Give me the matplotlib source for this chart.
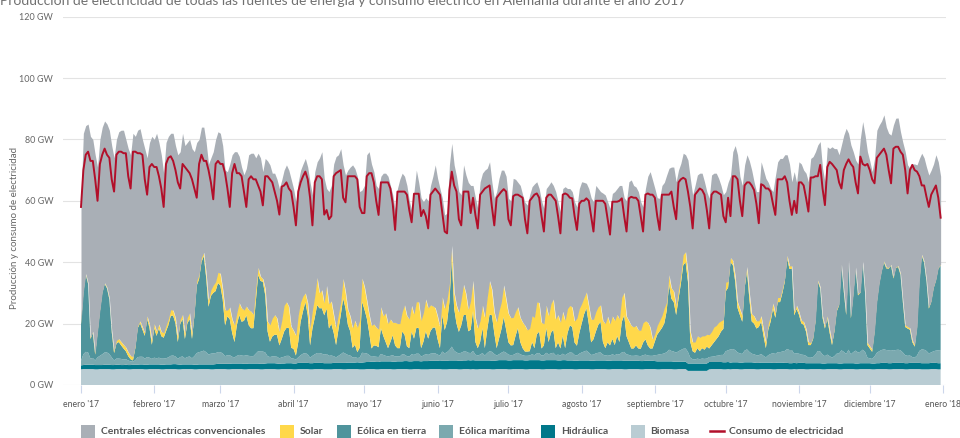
import numpy as np
import matplotlib
matplotlib.use("Agg")
import matplotlib.pyplot as plt
from matplotlib.patches import Rectangle
from matplotlib.lines import Line2D

plt.rcParams['font.family'] = ['Lato', 'DejaVu Sans']

# Daily averages for 2017 in GW, one row per month
consumo = [
    58, 70, 75, 76, 73, 73, 67, 60, 72, 75, 77, 75, 74, 67, 63, 75, 76, 76, 75.5, 75.5, 68, 64, 76, 76, 75.5, 75.5, 75, 67, 62, 71, 72,
    71, 71, 68, 64, 58, 72, 74, 74.5, 73, 70, 66, 64, 72, 71, 70, 69, 67, 64, 61, 72, 75, 73, 73, 70, 66, 60.5, 72, 73,
    72, 72, 69, 64, 58, 69, 72, 69, 69, 68, 63, 58, 67, 68, 67, 67, 65, 63, 58.5, 68, 68, 67, 66, 63, 60, 55.5, 64.6, 65, 66, 64, 63,
    58, 52, 63, 66, 68, 69.5, 67, 61, 52, 66, 68, 68, 67, 55.5, 57, 54, 55, 68, 69, 69.5, 70, 61, 59.5, 68, 68, 68, 68, 67, 58, 56,
    56, 68, 69, 69, 66, 60, 55.4, 66, 66, 66, 66, 64, 59, 50.5, 63, 63, 63, 63, 62, 57, 53, 62.3, 62.3, 62.3, 55, 57, 55, 51, 62, 63, 64,
    63, 62, 56, 50, 49.4, 63.5, 69.5, 65, 63, 54, 52, 63, 63, 63, 56, 61, 55.4, 51, 62, 63, 64, 64.5, 65, 58, 52, 61, 62, 63, 63.8, 63,
    54, 52, 61.5, 62, 62, 61.5, 61, 54, 49.4, 60, 61, 62, 62.4, 61, 55, 50, 61, 62, 62, 61, 60, 55, 49.4, 62, 62.4, 62, 61, 60.8, 55, 50.5, 59,
    60, 60, 60.8, 60, 55, 50, 60, 60, 60, 60, 59, 54, 49, 59.7, 59.7, 59.7, 60, 60.8, 55, 50, 60.8, 61.3, 61, 61, 60, 55, 50, 62, 62.4, 62, 62,
    61, 55, 50.5, 62, 62, 62, 62, 63, 58, 54, 66, 67, 67.5, 67, 63, 58, 51, 62, 63, 64, 63.5, 62, 57, 51, 62, 63, 63, 62.5, 62, 55,
    53, 61, 55, 68, 68, 67, 60, 55, 65, 66, 66, 65, 63.5, 59, 52.7, 65.4, 65, 64, 64, 63, 59, 55.4, 67, 67, 67, 68, 66, 60, 55.4, 60, 56,
    66, 66, 65, 61, 56.5, 67.6, 67.6, 68, 68, 71.7, 64, 58.6, 71, 72.7, 72, 71, 70, 66, 64, 70, 72, 73.5, 72, 71, 66, 62.4, 74.4, 72, 71.5, 72,
    70, 67, 65.7, 74, 75, 76, 77, 75, 70, 65.7, 77, 77.6, 77.6, 76, 75, 70, 62.4, 70, 71.7, 70, 69.5, 68, 65, 65, 61.3, 58, 62, 63.5, 65, 61, 54.5,
]

produccion_total = [
    60, 82, 84.5, 85, 81, 80, 75, 71, 80, 84, 86, 85, 83, 78, 74, 80, 82.5, 83, 83, 80, 77, 75, 82, 81, 83, 83.5, 80, 77, 74, 79, 81,
    80, 82, 79, 75, 69, 79, 81, 82, 82, 78, 75, 76, 82, 78, 79, 80, 77, 76, 79, 80, 84, 84, 79, 72, 74, 76, 80, 82.5,
    82, 78, 70, 69.5, 72, 75, 76, 76, 74.5, 71, 68.5, 70.5, 75, 75.5, 75.5, 74, 75.5, 74, 69.5, 73.8, 73, 71.7, 69, 69, 67, 64, 66.8, 70, 71.7, 70, 67,
    64, 59.7, 66.2, 70, 72, 73.8, 71, 66, 62, 69.5, 72.7, 74, 76, 67.3, 64, 63, 65, 72, 74.4, 75, 77, 71.7, 68.4, 70, 71, 71.7, 70.5, 68, 63, 63.5,
    65, 75, 76, 72, 69.5, 65, 64, 68, 69, 69, 68, 65, 62, 57, 64, 67, 69, 68, 65, 60, 57, 63, 70, 66, 61, 59.7, 61, 60, 65, 68, 71.7,
    67.3, 64, 60.8, 55.4, 56, 71.7, 78.7, 71.7, 68, 63, 62, 71.7, 68.4, 66, 65, 65, 61, 57.5, 66.2, 69, 70, 70.6, 72.7, 66, 60.8, 63, 67.3, 70, 70, 68,
    60.8, 60, 67.3, 67, 66, 65, 62, 59.5, 58.6, 62, 64.6, 65.5, 66.2, 64, 60, 57.5, 64, 65, 66.2, 65, 63, 59.7, 56.5, 64, 64.6, 64, 64, 63, 59.7, 58, 64,
    66.2, 66, 65.7, 64, 61, 59.7, 65, 64, 63, 62.5, 61.9, 59.7, 57.5, 62.4, 63, 64, 65, 65, 61, 60, 66.2, 66.8, 65, 64.5, 63, 59.7, 58, 64, 68, 69.5, 66.8,
    64, 61, 60.8, 65, 66, 68.4, 70.6, 71, 71, 66.2, 70, 72.2, 75.5, 75, 73.3, 67.3, 61.9, 65, 68.4, 69, 69, 66.2, 63, 60.8, 68.4, 69, 69, 67.3, 65, 62,
    63, 66, 68, 76, 78, 75, 68, 65, 71.7, 75, 73, 70, 66.2, 63, 63, 72.7, 70, 67.3, 66, 64, 63, 68, 72.7, 73.8, 73.8, 75, 75, 72, 66.2, 69.5, 66,
    72.7, 72, 70, 69, 66.2, 73.8, 74.4, 76, 78.2, 79.3, 70.6, 66.2, 77.6, 77, 77.6, 77, 77, 75, 78.2, 81.4, 83.6, 82, 78.2, 76, 73.3, 72, 80.3, 85.8, 81.4, 76,
    73, 69.5, 73.8, 83, 84.7, 86, 88, 84, 82, 81.4, 84.7, 86.9, 87, 82.5, 79, 76, 71.7, 70.6, 72, 72, 71.7, 73.8, 75.5, 74, 71, 68.4, 70, 72, 75, 72.7, 68,
]

solar = [
    0.6, 0.4, 0.3, 0.3, 0.5, 0.5, 0.6, 0.5, 0.5, 0.4, 0.3, 0.3, 0.4, 0.5, 0.8, 1.0, 1.1, 1.2, 1.3, 1.3, 1.3, 1.2, 1.2, 1.0, 0.8, 0.8, 0.8, 1.0, 1.0, 1.2, 1.5,
    1.5, 1.5, 1.4, 1.5, 1.6, 1.8, 2.0, 2.0, 1.8, 1.8, 1.8, 1.5, 1.5, 1.8, 2.0, 2.0, 2.0, 1.8, 1.5, 1.5, 1.5, 1.2, 1.5, 2.0, 2.0, 2.5, 3.0, 3.5,
    4.0, 3.5, 5.0, 2.0, 4.0, 4.5, 5.5, 4.0, 4.0, 4.5, 3.5, 3.0, 5.0, 5.5, 4.5, 4.5, 2.5, 1.5, 1.0, 2.2, 3.2, 5.5, 6.0, 6.5, 5.5, 4.5, 6.0, 8.5, 8.5, 7.0, 7.0,
    6.0, 6.5, 8.8, 6.4, 5.0, 3.0, 4.0, 5.5, 6.0, 7.0, 9.0, 5.0, 6.0, 4.0, 7.5, 8.0, 7.5, 6.0, 5.5, 5.0, 4.2, 6.5, 5.4, 5.0, 5.0, 6.5, 8.0, 8.0, 9.0, 7.7,
    7.5, 6.0, 6.0, 7.5, 7.0, 6.0, 5.9, 7.0, 6.5, 9.5, 8.0, 7.5, 4.2, 7.5, 8.0, 8.0, 6.4, 9.7, 10.0, 9.5, 8.5, 8.0, 8.5, 8.5, 9.0, 9.5, 10.5, 10.0, 8.5, 7.0, 6.5,
    7.5, 7.0, 6.0, 7.0, 7.4, 6.0, 4.2, 5.3, 6.0, 6.4, 8.5, 10.0, 7.0, 7.0, 9.5, 10.0, 8.0, 6.5, 7.0, 7.5, 10.0, 10.5, 11.0, 8.5, 7.0, 8.5, 9.0, 9.0, 10.5, 10.0,
    9.5, 9.0, 9.0, 8.0, 7.0, 8.0, 8.5, 8.5, 7.0, 7.5, 8.5, 10.0, 10.5, 9.5, 8.5, 7.0, 7.5, 8.5, 9.5, 10.0, 9.5, 9.0, 8.5, 8.0, 9.0, 8.0, 6.5, 6.5, 7.0, 9.0, 8.0,
    6.5, 5.5, 5.3, 6.0, 7.5, 6.5, 6.5, 6.0, 5.5, 7.0, 8.0, 8.5, 7.0, 7.5, 8.0, 7.0, 7.5, 8.0, 7.5, 6.5, 7.0, 7.5, 7.0, 6.5, 6.0, 6.0, 6.5, 6.0, 7.5, 7.0, 3.0,
    2.5, 3.0, 3.5, 4.0, 5.0, 3.0, 3.2, 3.5, 3.5, 3.0, 3.0, 3.0, 3.5, 3.4, 3.0, 3.5, 3.0, 3.5, 4.0, 4.5, 4.0, 4.5, 4.0, 4.5, 4.5, 5.0, 4.5, 4.5, 3.5, 3.0,
    3.0, 2.0, 1.5, 1.5, 1.8, 2.0, 2.0, 2.0, 1.5, 1.5, 2.0, 2.5, 2.5, 2.5, 2.0, 2.0, 2.0, 2.0, 2.0, 2.0, 1.8, 1.5, 1.5, 1.5, 1.5, 1.2, 1.0, 1.0, 1.0, 1.2, 1.2,
    1.0, 1.0, 1.0, 1.0, 1.0, 0.8, 0.8, 0.8, 0.5, 0.5, 0.6, 0.8, 0.8, 1.0, 1.0, 1.0, 0.8, 0.6, 0.4, 0.5, 0.6, 0.4, 0.6, 0.6, 0.5, 0.5, 0.4, 0.4, 0.5, 0.8,
    0.8, 0.8, 0.6, 0.5, 0.4, 0.4, 0.4, 0.4, 0.4, 0.4, 0.4, 0.4, 0.4, 0.4, 0.5, 0.6, 0.6, 0.6, 0.6, 0.6, 0.6, 0.5, 0.4, 0.4, 0.4, 0.5, 0.5, 0.5, 0.4, 0.4, 0.4,
]

eolica_tierra = [
    11.9, 19.9, 25.2, 22.4, 6.4, 8.2, 1.9, 7.9, 14.4, 19.9, 22.4, 20.9, 17.9, 8.4, 2.4, 4.9, 5.4, 4.4, 3.6, 2.6, 1.4, 0.7, 0.4, 3.9, 9.4, 10.9, 8.9, 7.4, 12.4, 9.7, 4.6,
    9.6, 7.3, 9.6, 7.3, 6.8, 8.8, 10.5, 13.0, 13.0, 10.8, 5.5, 10.8, 12.2, 6.3, 10.9, 12.2, 6.3, 13.0, 22.0, 23.8, 29.1, 30.8, 24.3, 15.6, 18.8, 19.7, 20.2, 22.5,
    21.7, 17.6, 10.0, 12.7, 11.7, 7.8, 5.0, 10.0, 13.0, 11.0, 11.4, 13.0, 10.0, 9.1, 9.1, 16.8, 24.8, 23.0, 22.7, 18.7, 8.1, 5.0, 6.5, 7.1, 7.1, 4.2, 6.0, 8.2, 9.1, 9.1, 3.4,
    3.2, 1.3, 5.0, 10.9, 13.8, 16.6, 12.8, 4.0, 8.9, 12.0, 15.6, 14.6, 14.8, 12.8, 14.8, 8.9, 10.3, 7.6, 4.0, 8.5, 12.8, 17.6, 14.8, 9.8, 7.9, 3.1, 4.0, 1.9, 3.2, 16.6,
    14.3, 11.5, 7.4, 2.7, 3.6, 3.6, 3.2, 8.4, 6.2, 4.5, 2.7, 4.5, 6.5, 3.6, 2.7, 2.7, 7.4, 6.5, 3.2, 2.7, 7.4, 5.3, 8.4, 8.4, 2.7, 4.5, 7.4, 5.3, 7.4, 8.4, 8.4,
    5.0, 2.4, 11.8, 7.6, 9.8, 15.6, 28.8, 13.8, 9.4, 7.0, 8.9, 11.9, 11.9, 7.0, 7.6, 13.0, 4.1, 2.4, 4.1, 8.1, 2.4, 7.6, 12.0, 11.9, 6.8, 2.4, 5.1, 7.6, 11.2, 7.6,
    4.0, 3.2, 3.2, 5.8, 8.0, 4.0, 2.3, 1.4, 1.4, 1.4, 4.0, 2.3, 6.2, 7.0, 2.3, 3.2, 8.0, 4.0, 6.7, 7.5, 2.3, 4.0, 2.3, 5.8, 2.3, 6.7, 8.8, 8.4, 4.0, 3.2, 6.7,
    9.4, 12.1, 13.8, 9.4, 4.1, 5.0, 7.1, 9.0, 10.0, 4.1, 2.4, 4.1, 3.3, 5.0, 3.3, 5.9, 4.1, 10.0, 11.9, 5.9, 4.1, 2.4, 2.4, 3.3, 2.4, 2.4, 4.1, 5.0, 3.3, 2.4, 2.4,
    4.5, 6.6, 7.5, 8.5, 9.8, 13.4, 21.2, 17.0, 16.1, 12.3, 17.0, 21.6, 27.2, 28.1, 22.9, 5.1, 2.6, 2.2, 3.4, 2.6, 3.4, 3.0, 3.9, 2.8, 3.7, 4.6, 5.4, 6.3, 7.6, 8.5,
    19.5, 20.4, 28.4, 27.4, 22.4, 14.5, 12.5, 10.5, 20.4, 25.5, 17.3, 10.5, 10.0, 8.7, 9.2, 10.5, 6.5, 3.0, 8.3, 10.5, 14.5, 11.8, 16.3, 16.3, 19.1, 22.5, 29.5, 26.4, 26.4, 12.5, 14.5,
    12.7, 10.2, 9.8, 7.9, 4.1, 4.1, 5.9, 10.7, 22.6, 20.6, 12.0, 9.0, 11.8, 7.6, 4.1, 8.0, 13.8, 15.6, 27.6, 19.6, 12.7, 28.7, 11.7, 18.6, 26.7, 18.6, 19.2, 28.5, 19.2, 4.1,
    3.2, 2.3, 7.9, 16.4, 21.9, 25.6, 28.4, 26.6, 26.6, 27.5, 23.5, 26.6, 27.0, 24.7, 16.4, 9.2, 8.9, 8.4, 4.9, 3.6, 8.9, 22.6, 30.6, 28.4, 22.8, 14.6, 16.4, 20.5, 22.8, 26.6, 27.5,
]

eolica_maritima = [
    1.5, 3.5, 4.2, 4.0, 2.0, 2.2, 1.5, 2.5, 3.0, 3.5, 4.0, 4.0, 3.5, 2.5, 1.5, 2.0, 2.0, 2.0, 1.8, 1.8, 1.5, 1.2, 1.0, 1.5, 2.5, 2.5, 2.5, 2.0, 2.5, 2.2, 1.8,
    2.2, 2.0, 2.2, 2.0, 2.0, 2.0, 2.3, 2.8, 2.8, 2.5, 1.8, 2.5, 2.6, 2.0, 2.4, 2.6, 2.0, 2.8, 3.8, 4.0, 4.2, 4.5, 4.0, 3.2, 3.5, 3.6, 3.6, 3.8,
    3.8, 3.4, 2.5, 2.8, 2.8, 2.2, 2.0, 2.5, 2.8, 2.6, 2.6, 2.8, 2.5, 2.4, 2.4, 3.2, 4.0, 4.0, 4.0, 3.6, 2.3, 2.0, 2.2, 2.2, 2.2, 1.8, 2.0, 2.2, 2.4, 2.4, 1.6,
    1.6, 1.3, 1.8, 2.5, 3.0, 3.2, 2.8, 1.8, 2.4, 2.8, 3.2, 3.2, 3.0, 2.8, 3.0, 2.4, 2.5, 2.2, 1.8, 2.3, 2.8, 3.4, 3.0, 2.5, 2.3, 1.7, 1.8, 1.4, 1.6, 3.2,
    3.0, 2.8, 2.3, 1.6, 1.7, 1.7, 1.6, 2.4, 2.1, 1.8, 1.6, 1.8, 2.1, 1.7, 1.6, 1.6, 2.3, 2.1, 1.6, 1.6, 2.3, 2.0, 2.4, 2.4, 1.6, 1.8, 2.3, 2.0, 2.3, 2.4, 2.4,
    2.0, 1.6, 3.0, 2.4, 2.8, 3.4, 4.5, 3.2, 2.6, 2.4, 2.6, 2.9, 2.9, 2.4, 2.4, 3.0, 1.9, 1.6, 1.9, 2.4, 1.6, 2.4, 3.0, 2.9, 2.2, 1.6, 1.9, 2.4, 2.8, 2.4,
    1.9, 1.7, 1.7, 2.1, 2.4, 1.9, 1.6, 1.5, 1.5, 1.5, 1.9, 1.6, 2.2, 2.3, 1.6, 1.7, 2.4, 1.9, 2.2, 2.4, 1.6, 1.9, 1.6, 2.1, 1.6, 2.2, 2.6, 2.5, 1.9, 1.7, 2.2,
    2.6, 2.9, 3.2, 2.6, 1.9, 2.0, 2.3, 2.5, 2.6, 1.9, 1.6, 1.9, 1.7, 2.0, 1.7, 2.1, 1.9, 2.6, 2.9, 2.1, 1.9, 1.6, 1.6, 1.7, 1.6, 1.6, 1.9, 2.0, 1.7, 1.6, 1.6,
    1.9, 2.1, 2.3, 2.4, 2.6, 3.0, 3.8, 3.4, 3.3, 2.9, 3.4, 3.8, 4.2, 4.3, 3.8, 1.9, 1.4, 1.3, 1.6, 1.4, 1.6, 1.5, 1.6, 1.6, 1.7, 1.8, 2.0, 2.1, 2.3, 2.4,
    3.6, 3.8, 4.3, 4.3, 4.0, 3.2, 3.0, 2.8, 3.8, 4.2, 3.4, 2.8, 2.7, 2.5, 2.5, 2.8, 2.2, 1.7, 2.4, 2.8, 3.2, 2.9, 3.4, 3.4, 3.6, 3.9, 4.5, 4.3, 4.3, 3.0, 3.2,
    3.0, 2.7, 2.6, 2.4, 1.8, 1.8, 2.0, 2.8, 4.0, 3.8, 2.9, 2.4, 2.8, 2.3, 1.8, 2.3, 3.1, 3.3, 4.3, 3.7, 3.0, 4.4, 2.9, 3.6, 4.2, 3.6, 3.7, 4.4, 3.7, 1.8,
    1.6, 1.5, 2.3, 3.4, 3.9, 4.2, 4.4, 4.2, 4.2, 4.3, 4.0, 4.2, 4.3, 4.1, 3.4, 2.6, 2.4, 2.4, 1.9, 1.7, 2.4, 3.9, 4.5, 4.4, 4.0, 3.2, 3.4, 3.8, 4.0, 4.2, 4.3,
]

hidraulica = [
    1.3, 1.3, 1.4, 1.4, 1.4, 1.4, 1.4, 1.4, 1.3, 1.3, 1.4, 1.4, 1.4, 1.4, 1.4, 1.4, 1.4, 1.3, 1.3, 1.4, 1.4, 1.4, 1.4, 1.4, 1.4, 1.5, 1.5, 1.5, 1.5, 1.5, 1.5,
    1.5, 1.5, 1.5, 1.5, 1.5, 1.5, 1.5, 1.5, 1.6, 1.6, 1.6, 1.5, 1.5, 1.5, 1.5, 1.5, 1.5, 1.5, 1.5, 1.5, 1.5, 1.5, 1.5, 1.5, 1.6, 1.6, 1.6, 1.7,
    1.7, 1.7, 1.7, 1.8, 1.8, 1.8, 1.8, 1.8, 1.8, 1.8, 1.8, 1.8, 1.8, 1.8, 1.8, 1.8, 1.8, 1.8, 1.8, 1.8, 1.9, 1.9, 1.9, 1.9, 1.9, 1.8, 1.8, 1.8, 1.9, 1.9, 1.9,
    1.9, 1.9, 2.0, 2.0, 2.0, 2.0, 2.0, 2.0, 2.0, 2.0, 2.0, 2.0, 2.0, 2.0, 2.0, 2.0, 2.0, 2.0, 2.0, 2.0, 2.0, 2.1, 2.1, 2.1, 2.1, 2.1, 2.1, 2.2, 2.2, 2.2,
    2.3, 2.3, 2.3, 2.4, 2.4, 2.4, 2.4, 2.5, 2.5, 2.5, 2.5, 2.5, 2.5, 2.5, 2.5, 2.5, 2.5, 2.6, 2.6, 2.6, 2.6, 2.6, 2.6, 2.6, 2.6, 2.7, 2.7, 2.7, 2.7, 2.7, 2.7,
    2.7, 2.8, 2.8, 2.8, 2.8, 2.8, 2.8, 2.8, 2.8, 2.8, 2.8, 2.8, 2.8, 2.9, 2.9, 2.9, 2.9, 2.9, 2.8, 2.8, 2.8, 2.8, 2.8, 2.8, 2.8, 2.8, 2.9, 2.9, 2.9, 2.9,
    2.9, 2.9, 2.9, 2.9, 2.9, 2.9, 2.9, 2.9, 2.9, 2.9, 2.9, 2.9, 2.9, 2.9, 2.9, 2.9, 2.9, 2.9, 2.9, 2.9, 2.9, 2.9, 2.9, 2.9, 2.9, 2.8, 2.8, 2.8, 2.8, 2.8, 2.8,
    2.8, 2.8, 2.8, 2.8, 2.8, 2.8, 2.8, 2.8, 2.8, 2.8, 2.8, 2.8, 2.8, 2.8, 2.8, 2.8, 2.8, 2.8, 2.8, 2.8, 2.7, 2.7, 2.7, 2.7, 2.7, 2.7, 2.7, 2.7, 2.7, 2.7, 2.7,
    2.6, 2.6, 2.6, 2.5, 2.5, 2.5, 2.5, 2.5, 2.5, 2.5, 2.4, 2.4, 2.4, 2.4, 2.4, 2.4, 2.4, 2.4, 2.4, 2.4, 2.4, 2.4, 2.4, 2.4, 2.3, 2.3, 2.3, 2.3, 2.3, 2.3,
    2.3, 2.3, 2.2, 2.2, 2.2, 2.2, 2.2, 2.2, 2.2, 2.2, 2.2, 2.2, 2.1, 2.1, 2.1, 2.1, 2.1, 2.1, 2.1, 2.1, 2.1, 2.1, 2.1, 2.1, 2.1, 2.0, 2.0, 2.0, 2.0, 2.0, 2.0,
    2.0, 2.0, 2.0, 2.0, 2.0, 1.9, 1.9, 1.9, 1.9, 1.9, 1.9, 1.9, 1.9, 1.9, 1.9, 1.9, 1.9, 1.9, 1.9, 1.9, 1.9, 1.9, 1.9, 1.9, 1.9, 1.9, 1.9, 1.9, 1.9, 1.9,
    1.9, 1.9, 1.9, 1.9, 1.9, 2.0, 2.0, 2.0, 2.0, 2.0, 2.0, 2.0, 2.0, 2.0, 2.0, 2.0, 2.0, 2.0, 2.0, 2.0, 2.0, 2.0, 2.0, 2.0, 2.0, 2.0, 2.0, 2.0, 2.0, 2.0, 2.0,
]

biomasa = [
    5.1, 5.2, 5.2, 5.2, 5.2, 5.2, 5.1, 5.1, 5.2, 5.2, 5.2, 5.2, 5.2, 5.1, 5.1, 5.2, 5.2, 5.2, 5.2, 5.2, 5.1, 5.1, 5.2, 5.2, 5.2, 5.2, 5.2, 5.1, 5.1, 5.2, 5.2,
    5.2, 5.2, 5.2, 5.1, 5.1, 5.2, 5.2, 5.2, 5.2, 5.2, 5.1, 5.1, 5.2, 5.2, 5.2, 5.2, 5.2, 5.1, 5.1, 5.2, 5.2, 5.2, 5.2, 5.2, 5.1, 5.1, 5.2, 5.2,
    5.2, 5.2, 5.2, 5.1, 5.1, 5.2, 5.2, 5.2, 5.2, 5.2, 5.1, 5.1, 5.2, 5.2, 5.2, 5.2, 5.2, 5.1, 5.1, 5.2, 5.2, 5.2, 5.2, 5.2, 5.1, 5.1, 5.2, 5.2, 5.2, 5.2, 5.2,
    5.1, 5.1, 5.2, 5.2, 5.2, 5.2, 5.2, 5.1, 5.1, 5.2, 5.2, 5.2, 5.2, 5.1, 5.1, 5.1, 5.1, 5.2, 5.2, 5.2, 5.2, 5.1, 5.1, 5.2, 5.2, 5.2, 5.2, 5.2, 5.1, 5.1,
    5.1, 5.2, 5.2, 5.2, 5.2, 5.1, 5.1, 5.2, 5.2, 5.2, 5.2, 5.2, 5.1, 5.1, 5.2, 5.2, 5.2, 5.2, 5.2, 5.1, 5.1, 5.2, 5.2, 5.2, 5.1, 5.1, 5.1, 5.1, 5.2, 5.2, 5.2,
    5.2, 5.2, 5.1, 5.1, 5.1, 5.2, 5.2, 5.2, 5.2, 5.1, 5.1, 5.2, 5.2, 5.2, 5.1, 5.2, 5.1, 5.1, 5.2, 5.2, 5.2, 5.2, 5.2, 5.1, 5.1, 5.2, 5.2, 5.2, 5.2, 5.2,
    5.1, 5.1, 5.2, 5.2, 5.2, 5.2, 5.2, 5.1, 5.1, 5.2, 5.2, 5.2, 5.2, 5.2, 5.1, 5.1, 5.2, 5.2, 5.2, 5.2, 5.2, 5.1, 5.1, 5.2, 5.2, 5.2, 5.2, 5.2, 5.1, 5.1, 5.2,
    5.2, 5.2, 5.2, 5.2, 5.1, 5.1, 5.2, 5.2, 5.2, 5.2, 5.2, 5.1, 5.1, 5.2, 5.2, 5.2, 5.2, 5.2, 5.1, 5.1, 5.2, 5.2, 5.2, 5.2, 5.2, 5.1, 5.1, 5.2, 5.2, 5.2, 5.2,
    5.2, 5.1, 5.1, 5.2, 5.2, 5.2, 5.2, 5.2, 5.1, 5.1, 5.2, 5.2, 5.2, 5.2, 4.6, 4.6, 4.6, 4.6, 4.6, 4.6, 4.6, 4.6, 4.6, 5.1, 5.2, 5.2, 5.2, 5.2, 5.2, 5.1,
    5.1, 5.2, 5.1, 5.2, 5.2, 5.2, 5.1, 5.1, 5.2, 5.2, 5.2, 5.2, 5.2, 5.1, 5.1, 5.2, 5.2, 5.2, 5.2, 5.2, 5.1, 5.1, 5.2, 5.2, 5.2, 5.2, 5.2, 5.1, 5.1, 5.2, 5.1,
    5.2, 5.2, 5.2, 5.1, 5.1, 5.2, 5.2, 5.2, 5.2, 5.2, 5.1, 5.1, 5.2, 5.2, 5.2, 5.2, 5.2, 5.1, 5.1, 5.2, 5.2, 5.2, 5.2, 5.2, 5.1, 5.1, 5.2, 5.2, 5.2, 5.2,
    5.2, 5.1, 5.1, 5.2, 5.2, 5.2, 5.2, 5.2, 5.1, 5.1, 5.2, 5.2, 5.2, 5.2, 5.2, 5.1, 5.1, 5.2, 5.2, 5.2, 5.2, 5.2, 5.1, 5.1, 5.1, 5.1, 5.2, 5.2, 5.2, 5.1, 5.1,
]

# day-of-year where each month starts, and their labels
mes_inicio = [0, 31, 59, 90, 120, 151, 181, 212, 243, 273, 304, 334, 365]
mes_etiquetas = ["enero '17", "febrero '17", "marzo '17", "abril '17", "mayo '17", "junio '17",
                 "julio '17", "agosto '17", "septiembre '17", "octubre '17", "noviembre '17",
                 "diciembre '17", "enero '18"]

titulo = ("Producción de electricidad de todas las fuentes de energía y consumo eléctrico "
          "en Alemania durante el año 2017")

colores = {
    "conv": "#A9AFB6",
    "solar": "#FFD84A",
    "tierra": "#4F949C",
    "maritima": "#7BA9AF",
    "hidro": "#00788A",
    "biomasa": "#B9CCD3",
    "consumo": "#B20F2A",
}

dias = np.arange(len(consumo))
renovables = (np.array(biomasa) + np.array(hidraulica) + np.array(eolica_maritima)
              + np.array(eolica_tierra) + np.array(solar))

fig = plt.figure(figsize=(9.6, 4.38), dpi=100)
ax = fig.add_axes([63 / 960, 1 - 385 / 438, (946 - 63) / 960, (385 - 16.6) / 438])

ax.stackplot(dias, biomasa, hidraulica, eolica_maritima, eolica_tierra, solar,
             colors=[colores["biomasa"], colores["hidro"], colores["maritima"],
                     colores["tierra"], colores["solar"]], linewidth=0, zorder=2)
ax.fill_between(dias, renovables, produccion_total, color=colores["conv"], linewidth=0, zorder=2)
ax.plot(dias, consumo, color=colores["consumo"], lw=1.4, zorder=3)

px = 365 / 862  # days per pixel
ax.set_xlim(-(81 - 63) * px, (946 - 81) * px)
ax.set_ylim(0, 120)

ax.set_yticks(range(0, 121, 20))
ax.set_yticklabels([f"{v} GW" for v in range(0, 121, 20)])
ax.set_xticks(mes_inicio)
ax.set_xticklabels(mes_etiquetas)
ax.tick_params(axis='y', length=0, pad=7, labelsize=6.5, labelcolor='#666666')
ax.tick_params(axis='x', length=6, width=0.8, color='#CCD6EB', pad=5, labelsize=6.2, labelcolor='#555555')
ax.grid(axis='y', color='#E3E3E3', lw=0.8, zorder=0)
for s in ax.spines.values():
    s.set_visible(False)

fig.text(15 / 960, 1 - 228 / 438, "Producción y consumo de electricidad", rotation=90,
         ha='center', va='center', fontsize=7, color='#666666')
# the title sits half outside the top edge, as in the original export
fig.text(0.0, 1 - 5 / 438, titulo, fontsize=10, color='#707070', va='baseline', ha='left')

# legend row, items placed at the pixel positions of the original
W, H = 960, 438
ley_y = 431
items = [
    ("Centrales eléctricas convencionales", colores["conv"], 81, 101),
    ("Solar", colores["solar"], 280, 300),
    ("Eólica en tierra", colores["tierra"], 337, 357),
    ("Eólica marítima", colores["maritima"], 439, 459),
    ("Hidráulica", colores["hidro"], 541, 561),
    ("Biomasa", colores["biomasa"], 631, 650),
]
for nombre, color, xp, xt in items:
    fig.add_artist(Rectangle((xp / W, 1 - (ley_y + 6.5) / H), 14 / W, 13 / H,
                             transform=fig.transFigure, color=color, lw=0))
    fig.text(xt / W, 1 - ley_y / H, nombre, fontsize=7.5, fontweight='bold',
             color='#555555', va='center', ha='left')
fig.add_artist(Line2D([710 / W, 724 / W], [1 - ley_y / H, 1 - ley_y / H],
                      transform=fig.transFigure, color=colores["consumo"], lw=1.8))
fig.text(729 / W, 1 - ley_y / H, "Consumo de electricidad", fontsize=7.5, fontweight='bold',
         color='#555555', va='center', ha='left')

fig.savefig("out.png", dpi=100)
